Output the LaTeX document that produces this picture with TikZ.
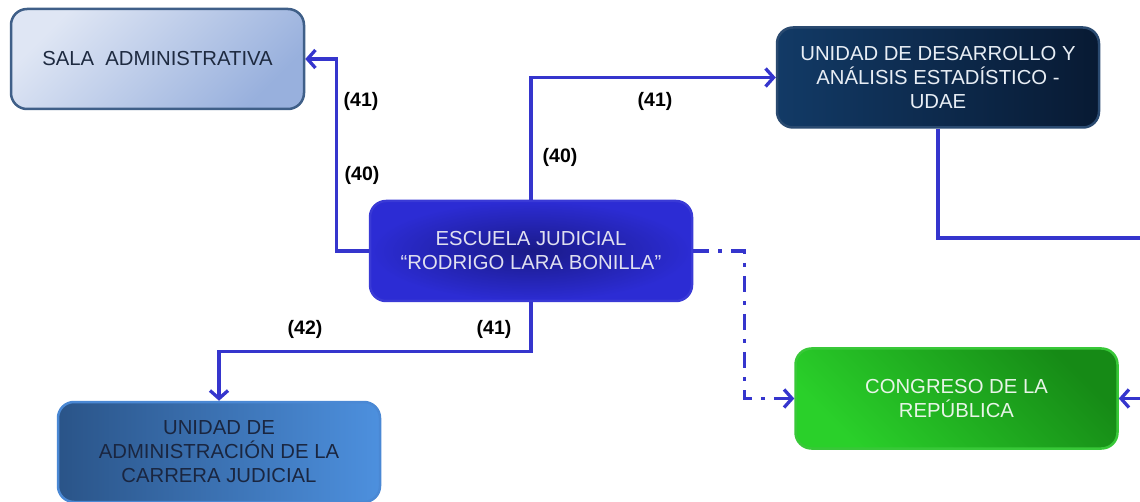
\documentclass[tikz,border=0pt]{standalone}
\usepackage{fontspec}
\setmainfont{Liberation Sans}
\usetikzlibrary{arrows.meta}
\definecolor{linkblue}{HTML}{3535CD}
\begin{document}
\begin{tikzpicture}[x=1pt, y=-1pt, line join=miter,
    box/.style={rounded corners=16pt, line width=2.5pt, minimum width=322pt,
      minimum height=100pt, align=center, inner sep=0pt,
      font=\fontsize{20.3}{24}\selectfont},
    num/.style={font=\fontsize{19.5}{21}\selectfont\bfseries, inner sep=0pt},
    link/.style={draw=linkblue, line width=3.3pt},
    tip/.style={-{Straight Barb[length=8pt, width=18pt]}}]
  \useasboundingbox (0,0) rectangle (1140,502);
  % cajas
  \node[box, minimum width=293pt, draw={rgb,255:red,63;green,95;blue,136},
    top color={rgb,255:red,223;green,230;blue,244},
    bottom color={rgb,255:red,152;green,176;blue,221}, shading angle=45,
    text={rgb,255:red,30;green,42;blue,64}] (sala) at (157.5,59) {SALA\ \ ADMINISTRATIVA};
  \node[box, draw={rgb,255:red,42;green,74;blue,112},
    left color={rgb,255:red,18;green,58;blue,102},
    right color={rgb,255:red,8;green,26;blue,51},
    text={rgb,255:red,232;green,238;blue,245}] (udae) at (938,77.5)
    {UNIDAD DE DESARROLLO Y\\AN\'ALISIS ESTAD\'ISTICO -\\UDAE};
  \node[box, draw={rgb,255:red,58;green,58;blue,214},
    inner color={rgb,255:red,26;green,26;blue,136},
    outer color={rgb,255:red,44;green,44;blue,212},
    text={rgb,255:red,224;green,224;blue,240}] (escuela) at (531,251)
    {ESCUELA JUDICIAL\\``RODRIGO LARA BONILLA''};
  \node[box, draw={rgb,255:red,56;green,200;blue,56},
    top color={rgb,255:red,22;green,138;blue,22},
    bottom color={rgb,255:red,42;green,208;blue,42}, shading angle=-45,
    text={rgb,255:red,232;green,245;blue,232}] (congreso) at (956.5,398.5)
    {CONGRESO DE LA\\REP\'UBLICA};
  \node[box, draw={rgb,255:red,74;green,136;blue,212},
    left color={rgb,255:red,42;green,84;blue,136},
    right color={rgb,255:red,77;green,144;blue,222},
    text={rgb,255:red,26;green,38;blue,64}] (unidad) at (219,452)
    {UNIDAD DE\\ADMINISTRACI\'ON DE LA\\CARRERA JUDICIAL};
  % extremos fuera del cuadro
  \coordinate (udaeout) at (1146,238);
  \coordinate (congin) at (1146,398.5);
  % conectores
  \draw[link, tip] (escuela.west) -- ++(-32,0) |- (sala.east);
  \draw[link, tip] (escuela.north) |- (udae.west);
  \draw[link, tip] (escuela.south) -- ++(0,49) -| (unidad.north);
  \draw[link, tip, dash pattern=on 16pt off 9pt on 4pt off 9pt]
    (escuela.east) -- ++(51,0) |- (congreso.west);
  \draw[link] (udae.south) |- (udaeout);
  \draw[link, tip] (congin) -- (congreso.east);
  % numerales
  \node[num] (sala41) at (361,101) {(41)};
  \node[num] (sala40) at (362,175) {(40)};
  \node[num] (udae40) at (560,157) {(40)};
  \node[num] (udae41) at (655,101) {(41)};
  \node[num] (unid42) at (305,329) {(42)};
  \node[num] (unid41) at (494,329) {(41)};
\end{tikzpicture}
\end{document}
